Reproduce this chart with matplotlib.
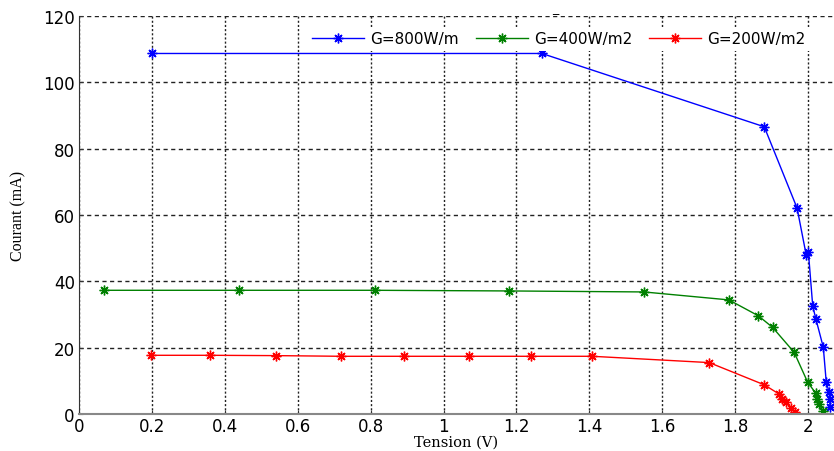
import matplotlib
matplotlib.use('Agg')
import matplotlib.pyplot as plt

# I-V curves for three irradiance levels
v_800 = [0.20, 1.27, 1.88, 1.97, 1.995, 2.001, 2.013, 2.022, 2.042, 2.050, 2.058, 2.060, 2.060]
i_800 = [108.7, 108.7, 86.6, 62.1, 48.0, 48.9, 32.5, 28.5, 20.1, 9.7, 6.5, 4.6, 2.0]

v_400 = [0.068, 0.44, 0.811, 1.181, 1.55, 1.783, 1.864, 1.903, 1.962, 1.999, 2.021, 2.026, 2.031, 2.040]
i_400 = [37.3, 37.3, 37.3, 37.1, 36.8, 34.4, 29.6, 26.1, 18.6, 9.6, 6.3, 4.5, 3.0, 1.0]

v_200 = [0.198, 0.359, 0.541, 0.72, 0.891, 1.071, 1.239, 1.408, 1.729, 1.880, 1.921, 1.930, 1.941, 1.952, 1.964]
i_200 = [17.7, 17.7, 17.6, 17.4, 17.4, 17.4, 17.4, 17.4, 15.5, 8.8, 6.0, 4.5, 3.5, 1.7, 0.7]

labels = ['G=800W/m', 'G=400W/m2', 'G=200W/m2']
colors = ['#0000ff', '#008000', '#ff0000']

xticks = [0, 0.2, 0.4, 0.6, 0.8, 1, 1.2, 1.4, 1.6, 1.8, 2]
xticklabels = ['0', '0.2', '0.4', '0.6', '0.8', '1', '1.2', '1.4', '1.6', '1.8', '2']
yticks = [0, 20, 40, 60, 80, 100, 120]

W, H = 834, 452
fig = plt.figure(figsize=(W / 100, H / 100), dpi=100)
ax = fig.add_axes([79 / W, (H - 415) / H, (W - 79) / W, (415 - 17) / H])

# matlab style '*' marker = 8-arm asterisk
star = (8, 2, 0)
series = [(v_800, i_800), (v_400, i_400), (v_200, i_200)]
for (v, i), lab, c in zip(series, labels, colors):
    ax.plot(v, i, color=c, lw=1.0, marker=star, ms=7, mew=1.0, label=lab)

ax.set_xlim(0, (W - 79) / 364.5)
ax.set_ylim(0, 120)
ax.set_xticks(xticks)
ax.set_xticklabels(xticklabels)
ax.set_yticks(yticks)

for lbl in ax.get_xticklabels() + ax.get_yticklabels():
    lbl.set_family('DejaVu Sans')
    lbl.set_fontsize(12)
ax.tick_params(direction='in', length=3, width=0.8, color='#333333', pad=3)
ax.tick_params(axis='x', pad=2)

ax.xaxis.grid(True, color='#222222', lw=1.0, linestyle=(0, (1.5, 1.5)))
ax.yaxis.grid(True, color='#222222', lw=1.0, linestyle=(0, (3, 2.5)))
ax.set_axisbelow(True)

ax.spines['top'].set_visible(False)
ax.spines['right'].set_visible(False)
ax.spines['left'].set_color('#333333')
ax.spines['bottom'].set_color('#888888')
ax.spines['bottom'].set_linewidth(1.5)

ax.set_xlabel('Tension (V)', family='DejaVu Serif', fontsize=10.5, labelpad=0)
ax.set_ylabel('Courant (mA)', family='Liberation Serif', fontsize=11.5, labelpad=12)

leg = ax.legend(loc='upper left', bbox_to_anchor=(300 / W, 1 - 20 / H),
                bbox_transform=fig.transFigure, ncol=3, frameon=True,
                fancybox=False, framealpha=1, edgecolor='none',
                prop={'family': 'DejaVu Sans', 'size': 11},
                handlelength=3.4, columnspacing=1.1, handletextpad=0.4,
                borderpad=0.3)

fig.text(555 / W, 1 - 2 / H, '_', ha='center', va='top', fontsize=9,
         family='DejaVu Sans')

fig.savefig('out.png', dpi=100)
